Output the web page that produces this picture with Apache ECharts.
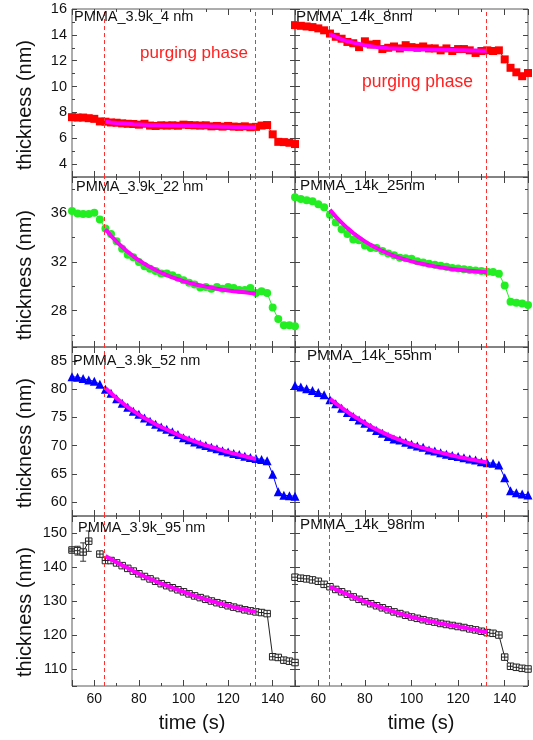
<!DOCTYPE html>
<html><head><meta charset="utf-8">
<script src="https://cdn.jsdelivr.net/npm/echarts@6/dist/echarts.min.js"></script>
<style>html,body{margin:0;padding:0;background:#fff}#c{width:533px;height:740px}</style>
</head><body><div id="c"></div>
<script>
// time axis (s)
const T = [50,52.5,55,57.5,60,62.5,65,67.5,70,72.5,75,77.5,80,82.5,85,87.5,90,92.5,95,97.5,100,102.5,105,107.5,110,112.5,115,117.5,120,122.5,125,127.5,130,132.5,135,137.5,140,142.5,145,147.5,150];
// fit time range
const TF = [65,67.5,70,72.5,75,77.5,80,82.5,85,87.5,90,92.5,95,97.5,100,102.5,105,107.5,110,112.5,115,117.5,120,122.5,125,127.5,130,132.5];
// purging phase boundaries
const purge = [64.5, 132];

const k39_4 = [7.63,7.6,7.6,7.55,7.5,7.3,7.28,7.22,7.2,7.15,7.12,7.1,7.05,7.12,6.98,6.95,7.0,6.98,7.0,6.97,7.05,7.02,7.0,6.98,7.0,6.92,6.95,6.9,6.95,6.9,6.88,6.92,6.85,6.88,6.98,7.02,6.3,5.72,5.7,5.65,5.55];
const fit39_4 = [7.27,7.22,7.18,7.15,7.12,7.09,7.07,7.05,7.03,7.02,7.0,6.99,6.98,6.97,6.96,6.95,6.94,6.93,6.92,6.91,6.9,6.89,6.88,6.87,6.86,6.85,6.84,6.83];
const k14_8 = [14.75,14.7,14.65,14.6,14.5,14.35,14.1,13.85,13.7,13.45,13.35,13.05,13.5,13.25,13.3,12.9,13.0,13.1,12.95,13.2,13.05,13.0,13.1,12.95,12.95,12.8,12.95,12.75,12.9,12.9,12.8,12.6,12.75,12.8,12.75,12.8,12.1,11.45,11.1,10.8,11.05];
const fit14_8 = [14.05,13.85,13.65,13.5,13.4,13.3,13.2,13.12,13.05,13.0,12.97,12.95,12.93,12.91,12.9,12.88,12.87,12.86,12.85,12.84,12.83,12.82,12.81,12.8,12.79,12.78,12.77,12.76];
const k39_22 = [36.2,36.0,35.95,35.95,36.05,35.5,34.75,34.3,33.7,33.1,32.6,32.4,32.0,31.65,31.45,31.25,31.05,31.05,30.9,30.7,30.5,30.3,30.15,29.9,29.95,29.8,29.95,29.8,29.95,29.85,29.7,29.7,29.85,29.45,29.6,29.45,28.25,27.3,26.8,26.8,26.7];
const fit39_22 = [34.7,34.16,33.67,33.23,32.83,32.47,32.14,31.85,31.58,31.34,31.12,30.92,30.74,30.58,30.43,30.29,30.17,30.07,29.97,29.88,29.8,29.72,29.66,29.6,29.55,29.5,29.45,29.41];
const k14_25 = [37.33,37.19,37.08,37.0,36.75,36.5,35.9,35.25,34.7,34.3,33.85,33.8,33.35,33.15,33.15,32.9,32.7,32.56,32.34,32.3,32.26,32.07,31.95,31.85,31.78,31.7,31.6,31.5,31.47,31.4,31.35,31.3,31.25,31.19,31.17,31.03,30.07,28.73,28.65,28.59,28.46];
const fit14_25 = [36.3,35.74,35.24,34.79,34.38,34.03,33.7,33.41,33.15,32.91,32.7,32.51,32.34,32.19,32.05,31.93,31.83,31.73,31.64,31.56,31.49,31.42,31.37,31.32,31.27,31.23,31.19,31.16];
const k39_52 = [82.2,82.15,81.9,81.65,81.4,80.9,80.0,79.3,78.3,77.5,76.8,76.1,75.55,74.9,74.3,73.8,73.3,72.9,72.45,71.95,71.4,71.05,70.65,70.3,70.0,69.7,69.45,69.1,68.85,68.6,68.4,68.1,67.9,67.7,67.55,67.3,64.9,61.8,61.2,61.1,61.0];
const fit39_52 = [80.2,79.3,78.4,77.6,76.85,76.15,75.5,74.9,74.35,73.8,73.3,72.85,72.4,71.95,71.5,71.1,70.75,70.4,70.05,69.75,69.45,69.15,68.85,68.6,68.35,68.1,67.85,67.6];
const k14_55 = [80.67,80.38,80.08,79.78,79.43,79.01,78.12,77.41,76.64,75.87,75.15,74.56,73.97,73.27,72.67,72.2,71.6,71.18,71.0,70.6,70.24,69.94,69.7,69.23,69.05,68.75,68.46,68.22,68.04,67.86,67.62,67.45,67.15,66.97,66.86,66.56,64.3,61.99,61.63,61.4,61.22];
const fit14_55 = [78.3,77.5,76.75,76.0,75.3,74.65,74.0,73.4,72.85,72.35,71.85,71.4,71.0,70.6,70.25,69.9,69.6,69.3,69.0,68.75,68.5,68.25,68.0,67.8,67.6,67.4,67.2,67.0];
const k39_95 = [145.0,144.8,144.4,147.6,null,143.8,141.9,141.9,141.2,140.4,139.6,138.8,138.0,137.2,136.5,135.8,135.1,134.5,133.9,133.3,132.7,132.1,131.5,131.0,130.5,130.0,129.5,129.1,128.6,128.2,127.8,127.4,127.1,126.8,126.6,126.3,113.6,113.4,112.6,112.3,111.9];
const err39_95 = [0.5,1.3,2.7,3.0];
const fit39_95 = [143.2,142.3,141.4,140.5,139.7,138.8,138.0,137.2,136.5,135.8,135.1,134.5,133.9,133.3,132.7,132.1,131.5,131.0,130.5,130.0,129.5,129.1,128.6,128.2,127.8,127.5,127.1,126.8];
const k14_98 = [137.0,136.7,136.5,136.2,135.8,134.9,134.2,133.4,132.7,132.0,131.2,130.5,129.8,129.2,128.6,128.0,127.4,126.8,126.3,125.8,125.3,124.9,124.5,124.1,123.8,123.4,123.1,122.8,122.5,122.2,121.8,121.5,121.1,120.7,120.5,120.0,113.5,110.8,110.5,110.2,110.0];
const fit14_98 = [134.2,133.4,132.7,132.0,131.2,130.5,129.8,129.2,128.6,128.0,127.4,126.8,126.3,125.8,125.3,124.9,124.5,124.1,123.8,123.4,123.1,122.8,122.5,122.2,121.8,121.5,121.1,120.8];

const labels = [['PMMA_3.9k_4 nm','PMMA_14k_8nm'],['PMMA_3.9k_22 nm','PMMA_14k_25nm'],['PMMA_3.9k_52 nm','PMMA_14k_55nm'],['PMMA_3.9k_95 nm','PMMA_14k_98nm']];
const yTitle = 'thickness (nm)';
const xTitle = 'time (s)';
const note = 'purging phase';

const FONT = '"Liberation Sans", Arial, sans-serif';
const rows = [
  {min:3, max:16, major:2, minor:1},
  {min:25, max:39, major:4, minor:2},
  {min:57.5, max:87.5, major:5, minor:null},
  {min:105, max:155, major:10, minor:5}
];
const rowTop = [9,177,347,516], rowH = [168,170,169,170];
const colLeft = [72,295], colW = [223,233];
const boxSquare = 'path://M0,0H10V10H0Z M5,0V10 M0,5H10';
const styles = [
  {color:'#ff0000', symbol:'rect', size:8},
  {color:'#22ee22', symbol:'circle', size:8},
  {color:'#0000ff', symbol:'triangle', size:9},
  {color:'#222222', symbol:boxSquare, size:6.5, hollow:true}
];
const dataSets = [[k39_4,k14_8],[k39_22,k14_25],[k39_52,k14_55],[k39_95,k14_98]];
const fitSets = [[fit39_4,fit14_8],[fit39_22,fit14_25],[fit39_52,fit14_55],[fit39_95,fit14_98]];

const grid=[], xAxis=[], yAxis=[], series=[], graphic=[];
let gi = 0;
for (let r=0;r<4;r++){
  for (let c=0;c<2;c++){
    grid.push({left:colLeft[c], top:rowTop[r], width:colW[c], height:rowH[r], show:true, borderColor:'#5a5a5a', borderWidth:1, backgroundColor:'transparent'});
    const xi = xAxis.length, yi = yAxis.length;
    for (const pos of ['bottom','top']){
      xAxis.push({gridIndex:gi, type:'value', position:pos, min:50, max:150, minInterval:20, maxInterval:20,
        axisLine:{show:false,onZero:false}, splitLine:{show:false},
        axisTick:{show:true, inside:true, length:6, lineStyle:{color:'#444'}},
        axisLabel:{show:(pos==='bottom' && r===3), margin:6, fontSize:14, color:'#111', fontFamily:FONT,
          formatter:v=> (v%20===0 ? String(v) : '')}});
      xAxis.push({gridIndex:gi, type:'value', position:pos, min:50, max:150, minInterval:10, maxInterval:10,
        axisLine:{show:false,onZero:false}, splitLine:{show:false},
        axisTick:{show:true, inside:true, length:3, lineStyle:{color:'#444'}},
        axisLabel:{show:false}});
    }
    const R = rows[r];
    for (const pos of ['left','right']){
      yAxis.push({gridIndex:gi, type:'value', position:pos, min:R.min, max:R.max, minInterval:R.major, maxInterval:R.major,
        axisLine:{show:false,onZero:false}, splitLine:{show:false},
        axisTick:{show:true, inside:true, length:5, lineStyle:{color:'#444'}},
        axisLabel:{show:(pos==='left' && c===0), margin:5, fontSize:14.5, color:'#111', fontFamily:FONT,
          formatter:v=> (Math.abs(v % R.major) < 1e-9 ? String(v) : '')}});
      if (R.minor){
        yAxis.push({gridIndex:gi, type:'value', position:pos, min:R.min, max:R.max, minInterval:R.minor, maxInterval:R.minor,
          axisLine:{show:false,onZero:false}, splitLine:{show:false},
          axisTick:{show:true, inside:true, length:3, lineStyle:{color:'#444'}},
          axisLabel:{show:false}});
      }
    }
    const S = styles[r];
    const vals = dataSets[r][c];
    series.push({type:'line', xAxisIndex:xi, yAxisIndex:yi, data:T.map((t,j)=>[t, vals[j]]),
      symbol:S.symbol, symbolSize:S.size, showSymbol:true, connectNulls:false, z:2,
      itemStyle: S.hollow ? {color:'#ffffff', borderColor:S.color, borderWidth:1} : {color:S.color},
      lineStyle:{color:S.color, width:1},
      markLine:{silent:true, symbol:['none','none'], label:{show:false},
        lineStyle:{color:'#ff3030', type:[4,3], width:1},
        data: purge.map(p=>({xAxis:p}))}
    });
    const fv = fitSets[r][c];
    series.push({type:'line', xAxisIndex:xi, yAxisIndex:yi, data:TF.map((t,j)=>[t, fv[j]]),
      showSymbol:false, symbol:'none', z:4, lineStyle:{color:'#ff00ff', width:4}});
    if (r===3 && c===0){
      series.push({type:'custom', xAxisIndex:xi, yAxisIndex:yi, z:3,
        data: err39_95.map((e,j)=>[T[j], k39_95[j], e]),
        encode:{x:0,y:1},
        renderItem:(params, api)=>{
          const x=api.value(0), v=api.value(1), e=api.value(2);
          const a=api.coord([x,v+e]), b=api.coord([x,v-e]);
          const st={stroke:'#333', lineWidth:1};
          return {type:'group', children:[
            {type:'line', shape:{x1:a[0],y1:a[1],x2:b[0],y2:b[1]}, style:st},
            {type:'line', shape:{x1:a[0]-3,y1:a[1],x2:a[0]+3,y2:a[1]}, style:st},
            {type:'line', shape:{x1:b[0]-3,y1:b[1],x2:b[0]+3,y2:b[1]}, style:st}
          ]};
        }});
    }
    gi++;
  }
}

const labelPos = [[[74,17],[296,17]],[[76,187],[300,186]],[[73,361],[307,356]],[[78,528],[300,525]]];
for (let r=0;r<4;r++) for (let c=0;c<2;c++){
  graphic.push({type:'text', x:labelPos[r][c][0], y:labelPos[r][c][1], z:100,
    style:{text:labels[r][c], fontSize:(c===0?14.5:15.2), fontFamily:FONT, fill:'#111', textAlign:'left', textVerticalAlign:'middle'}});
}
const yTitleY = [105,275,443,612];
for (const yy of yTitleY){
  graphic.push({type:'text', x:25, y:yy, rotation:Math.PI/2, z:100,
    style:{text:yTitle, fontSize:20, fontFamily:FONT, fill:'#111', textAlign:'center', textVerticalAlign:'middle'}});
}
for (const xx of [192,421]){
  graphic.push({type:'text', x:xx, y:723, z:100,
    style:{text:xTitle, fontSize:20, fontFamily:FONT, fill:'#111', textAlign:'center', textVerticalAlign:'middle'}});
}
graphic.push({type:'text', x:194, y:53, z:100, style:{text:note, fontSize:17, fontFamily:FONT, fill:'#ff2020', textAlign:'center', textVerticalAlign:'middle'}});
graphic.push({type:'text', x:417.5, y:82, z:100, style:{text:note, fontSize:17.5, fontFamily:FONT, fill:'#ff2020', textAlign:'center', textVerticalAlign:'middle'}});

const chart = echarts.init(document.getElementById('c'), null, {renderer:'canvas'});
chart.setOption({animation:false, backgroundColor:'#fff', grid, xAxis, yAxis, series, graphic});
</script>
</body></html>
